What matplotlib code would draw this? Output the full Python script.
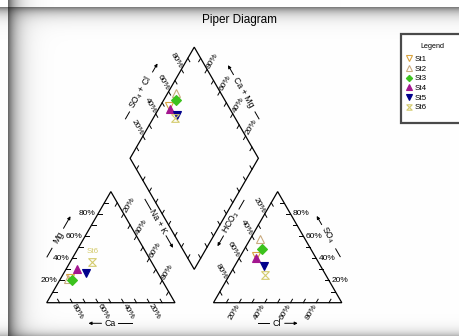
import numpy as np
import matplotlib
matplotlib.use("Agg")
import matplotlib.pyplot as plt
from matplotlib.patches import Rectangle, Polygon
from matplotlib.path import Path

plt.rcParams['font.family'] = ['Liberation Sans', 'DejaVu Sans']
plt.rcParams['mathtext.fontset'] = 'custom'
plt.rcParams['mathtext.rm'] = 'Liberation Sans'
plt.rcParams['mathtext.default'] = 'regular'

# ---- station chemistry (percent of meq) ----
stations = ["St1", "St2", "St3", "St4", "St5", "St6"]
ca   = [71, 73, 70, 61, 56, 46]
mg   = [22, 21, 20, 30, 27, 37]
nak  = [7, 6, 10, 9, 17, 17]
hco3 = [46, 35, 38, 47, 44, 47]
cl   = [12, 8, 14, 13, 23, 28]
so4  = [42, 57, 48, 40, 33, 25]
pct_labels = ["20%", "40%", "60%", "80%"]
pct_values = [0.2, 0.4, 0.6, 0.8]

hourglass = Path([(-1, 1), (1, 1), (-1, -1), (1, -1), (-1, 1)],
                 [Path.MOVETO, Path.LINETO, Path.LINETO, Path.LINETO, Path.CLOSEPOLY])
styles = {
    "St1": dict(marker="v", mfc="none", mec="#d9a441", ms=5.5),
    "St2": dict(marker="^", mfc="none", mec="#c9ab80", ms=5.5),
    "St3": dict(marker="D", mfc="#3cc21e", mec="#3cc21e", ms=4.6),
    "St4": dict(marker="^", mfc="#a3168f", mec="#a3168f", ms=5.5),
    "St5": dict(marker="v", mfc="#00008c", mec="#00008c", ms=5.5),
    "St6": dict(marker=hourglass, mfc="none", mec="#d4cb6e", ms=5.5),
}

W, H, DPI = 459, 336, 100
S = 128.3             # pixels per unit side
X0, Y0 = 46.7, 302.7  # pixel position of the cation triangle's Ca corner
PX = 1.0 / S

fig = plt.figure(figsize=(W / DPI, H / DPI), dpi=DPI)

# shaded panel edges
bg = fig.add_axes([0, 0, 1, 1], zorder=0)
xx, yy = np.meshgrid(np.arange(W) + 0.5, np.arange(H) + 0.5)
dl = np.where(xx < 8, np.inf, xx - 8)
dt = np.where(yy < 7.5, np.inf, yy - 7.5)
db = np.clip(338 - yy, 0, None)
shade = ((1 - 0.62 * np.exp(-dl / 9.0)) * (1 - 0.5 * np.exp(-dt / 6.5))
         * (1 - 0.45 * np.exp(-db / 5.0)))
bg.imshow(np.dstack([shade] * 3), extent=[0, W, H, 0], aspect="auto", interpolation="bilinear")
bg.set_xlim(0, W); bg.set_ylim(H, 0); bg.axis("off")

ax = fig.add_axes([0, 0, 1, 1], zorder=1)
ax.patch.set_alpha(0)
ax.set_xlim(-X0 / S, (W - X0) / S)
ax.set_ylim((Y0 - H) / S, Y0 / S)
ax.axis("off")

h = np.sqrt(3) / 2
g = 0.3
up_l = np.array([-0.5, h])
up_r = np.array([0.5, h])
Bd = np.array([1 + g / 2, g * h])
Ld, Rd = Bd + up_l, Bd + up_r
Td = Bd + up_l + up_r

for poly in ([(0, 0), (1, 0), (0.5, h)],
             [(1 + g, 0), (2 + g, 0), (1.5 + g, h)],
             [tuple(Bd), tuple(Rd), tuple(Td), tuple(Ld)]):
    ax.add_patch(Polygon(poly, closed=True, fill=False, ec="black", lw=0.9, joinstyle="miter"))

# tick marks on every edge: (start, end, inward direction)
edges = [
    ((0, 0), (0.5, h), (1, 0)),
    ((1, 0), (0, 0), (-0.5, h)),
    ((0.5, h), (1, 0), (-0.5, -h)),
    ((1.5 + g, h), (1 + g, 0), (0.5, -h)),
    ((2 + g, 0), (1.5 + g, h), (-1, 0)),
    ((1 + g, 0), (2 + g, 0), (0.5, h)),
    (Ld, Td, (0.5, -h)),
    (Rd, Td, (-0.5, -h)),
    (Ld, Bd, (0.5, h)),
    (Rd, Bd, (-0.5, h)),
]
tick_len = 4.0 * PX
for a, b, d in edges:
    a, b, d = np.array(a, float), np.array(b, float), np.array(d, float)
    for f in np.arange(1, 10) / 10:
        p = a + f * (b - a)
        q = p + d * tick_len
        ax.plot([p[0], q[0]], [p[1], q[1]], color="black", lw=0.7)

fs_tick = 6.0
def lab(p, off, text, rot=0, ha="center", va="center"):
    ax.text(p[0] + off[0] * PX, p[1] + off[1] * PX, text, fontsize=fs_tick, rotation=rot,
            rotation_mode="anchor", ha=ha, va=va)

for v, t in zip(pct_values, pct_labels):
    # cation triangle
    lab((v / 2, v * h), (-2.5, 0), t, ha="right")                        # Mg
    lab((1 - v, 0), (0.5, -2), t, rot=-60, ha="left")                     # Ca
    lab((0.5 + v / 2, (1 - v) * h), (1.5, 1.5), t, rot=60, ha="left")    # Na + K
    # anion triangle
    lab((1 + g + 0.5 * (1 - v), (1 - v) * h), (-1.5, 1.5), t, rot=-60, ha="right")  # HCO3
    lab((2 + g - v / 2, v * h), (2.5, 0), t, ha="left")                 # SO4
    lab((1 + g + v, 0), (-0.5, -2), t, rot=60, ha="right")              # Cl
    # diamond
    lab(Ld + v * up_r, (-1.5, 1.5), t, rot=-60, ha="right")             # SO4 + Cl
    lab(Rd + v * up_l, (1.5, 1.5), t, rot=60, ha="left")                # Ca + Mg

fs_title = 6.3
def axis_title(cx, cy, text, rot, neg, pos):
    """Rotated axis caption with a plain dash on one side and an arrow on the other."""
    c = np.array([(cx - X0) / S, (Y0 - cy) / S])
    u = np.array([np.cos(np.radians(rot)), np.sin(np.radians(rot))])
    ax.text(c[0], c[1], text, fontsize=fs_title, rotation=rot, rotation_mode="anchor",
            ha="center", va="center")
    for sign, (kind, r0, r1) in ((-1, neg), (1, pos)):
        p0 = c + sign * u * r0 * PX
        p1 = c + sign * u * r1 * PX
        if kind == "arrow":
            ax.annotate("", xy=p1, xytext=p0,
                        arrowprops=dict(arrowstyle="-|>", lw=0.7, color="black",
                                        mutation_scale=4.5, shrinkA=0, shrinkB=0))
        else:
            ax.plot([p0[0], p1[0]], [p0[1], p1[1]], color="black", lw=0.7)

axis_title(58.5, 237, "Mg", 60, ("line", 13, 23), ("arrow", 10, 24))
axis_title(110.5, 323.3, "Ca", 0, ("arrow", 9, 22), ("line", 7, 21))
axis_title(276.7, 323.3, "Cl", 0, ("line", 8, 19), ("arrow", 8, 21))
axis_title(157.5, 221, "Na + K", -60, ("line", 13, 25), ("arrow", 17, 31))
axis_title(231.5, 222, "HCO$_3$", 60, ("arrow", 16, 28), ("line", 15, 25))
axis_title(141, 92, "SO$_4$ + Cl", 60, ("line", 23, 31), ("arrow", 23, 33))
axis_title(243.5, 92, "Ca + Mg", -60, ("arrow", 20, 31), ("line", 23, 31))
axis_title(327.7, 235, "SO$_4$", -60, ("arrow", 12, 22), ("line", 16, 25))

# data points in the three fields
handles = []
for i, st in enumerate(stations):
    cx = (nak[i] + mg[i] / 2) / 100
    cy = mg[i] / 100 * h
    axx = 1 + g + (cl[i] + so4[i] / 2) / 100
    ayy = so4[i] / 100 * h
    cm = (ca[i] + mg[i]) / 100
    sc = (so4[i] + cl[i]) / 100
    dx = Bd[0] + 0.5 * (sc - cm)
    dy = Bd[1] + h * (sc + cm)
    line, = ax.plot([cx, axx, dx], [cy, ayy, dy], ls="none", mew=0.8, zorder=3,
                    label=st, **styles[st])
    handles.append(line)
    if st == "St6":
        ax.annotate(st, (cx, cy), xytext=(0, 7), textcoords="offset points",
                    ha="center", va="center", fontsize=5.8, color="#d4cb6e")

fig.text(239 / W, 1 - 19.5 / H, "Piper Diagram", fontsize=8.5, ha="center", va="center")

# legend panel
fig.add_artist(Rectangle((401 / W, 1 - 122.7 / H), 64 / W, 88.4 / H, transform=fig.transFigure,
                         fc="white", ec="#4a4a4a", lw=1.6, zorder=5))
fig.text(432 / W, 1 - 46 / H, "Legend", fontsize=5.2, ha="center", va="center", zorder=6)
leg = fig.legend(handles=handles, labels=stations, loc="upper left",
                 bbox_to_anchor=(405 / W, 1 - 55.5 / H), frameon=False, fontsize=5.8,
                 markerscale=0.7, handlelength=0.9, handletextpad=0.35, labelspacing=0.25,
                 borderpad=0, borderaxespad=0)
leg.set_zorder(7)

fig.savefig("out.png", dpi=DPI)
